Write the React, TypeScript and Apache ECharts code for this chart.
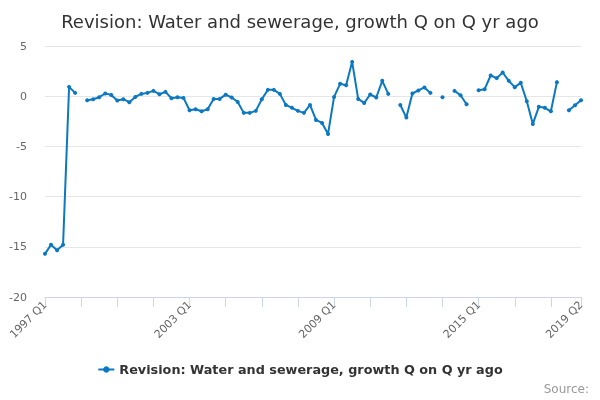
import React, { useEffect, useRef } from 'react';
import * as echarts from 'echarts';

// quarterly labels 1997 Q1 .. 2019 Q2
const quarters: string[] = [];
for (let y = 1997; y <= 2019; y++) {
  for (let q = 1; q <= 4; q++) {
    if (y === 2019 && q > 2) break;
    quarters.push(`${y} Q${q}`);
  }
}

const seriesName = 'Revision: Water and sewerage, growth Q on Q yr ago';

const revision: (number | null)[] = [
  -15.7, -14.8, -15.35, -14.8, 0.93, 0.33, null, -0.4, -0.3, -0.1,
  0.27, 0.13, -0.43, -0.3, -0.6, -0.07, 0.23, 0.33, 0.53, 0.2,
  0.43, -0.2, -0.1, -0.17, -1.4, -1.3, -1.5, -1.3, -0.27, -0.27,
  0.15, -0.13, -0.57, -1.66, -1.66, -1.46, -0.3, 0.63, 0.63, 0.23,
  -0.87, -1.16, -1.46, -1.66, -0.87, -2.36, -2.66, -3.76, -0.07, 1.23,
  1.1, 3.42, -0.27, -0.67, 0.17, -0.13, 1.53, 0.23, null, -0.88,
  -2.13, 0.27, 0.57, 0.87, 0.33, null, -0.1, null, 0.53, 0.1,
  -0.8, null, 0.6, 0.7, 2.06, 1.8, 2.36, 1.53, 0.9, 1.33,
  -0.5, -2.76, -1.06, -1.16, -1.5, 1.4, null, -1.4, -0.9, -0.4,
];

const yTicks = { min: -20, max: 5, step: 5 };

const FONT = '"DejaVu Sans", Verdana, sans-serif';
const LINE = '#0b78c1';

const RevisionChart = () => {
  const chartRef = useRef<HTMLDivElement>(null);

  useEffect(() => {
    const chart = echarts.init(chartRef.current, null, { renderer: 'svg' });
    const last = quarters.length - 1;

    const option = {
      animation: false,
      textStyle: { fontFamily: FONT },
      title: {
        text: 'Revision: Water and sewerage, growth Q on Q yr ago',
        left: 'center',
        top: 7,
        textStyle: { fontSize: 18, fontWeight: 'normal', color: '#333333', fontFamily: FONT },
      },
      legend: {
        data: [seriesName],
        bottom: 19,
        left: 'center',
        itemWidth: 16,
        itemHeight: 8,
        itemGap: 5,
        textStyle: { fontSize: 12.8, fontWeight: 'bold', color: '#333333', fontFamily: FONT },
      },
      grid: { left: 45, right: 19, top: 46, bottom: 103 },
      xAxis: {
        type: 'category',
        data: quarters,
        boundaryGap: false,
        axisLine: { onZero: false, lineStyle: { color: '#ccd6eb' } },
        axisTick: {
          length: 10,
          lineStyle: { color: '#ccd6eb' },
          interval: (i: number) => i % 6 === 0 || i === last,
        },
        axisLabel: {
          rotate: 45,
          margin: 6,
          fontSize: 11,
          color: '#666666',
          fontFamily: FONT,
          interval: (i: number) => i % 24 === 0 || i === last,
        },
        splitLine: { show: false },
      },
      yAxis: {
        type: 'value',
        min: yTicks.min,
        max: yTicks.max,
        interval: yTicks.step,
        axisLine: { show: false },
        axisTick: { show: false },
        axisLabel: { fontSize: 11, color: '#666666', margin: 18, fontFamily: FONT },
        splitLine: { lineStyle: { color: '#e6e6e6' } },
      },
      series: [
        {
          name: seriesName,
          type: 'line',
          data: revision,
          connectNulls: false,
          showAllSymbol: true,
          symbol: 'circle',
          symbolSize: 4,
          lineStyle: { width: 2, color: LINE },
          itemStyle: { color: LINE },
        },
      ],
      graphic: [
        {
          type: 'text',
          right: 11,
          top: 383,
          style: { text: 'Source:', fontSize: 12, fill: '#999999', fontFamily: FONT },
        },
      ],
    };

    chart.setOption(option);

    return () => {
      chart.dispose();
    };
  }, []);

  return (
    <div
      ref={chartRef}
      style={{ position: 'fixed', left: 0, top: 0, width: '600px', height: '400px' }}
    />
  );
};

export default function App() {
  return <RevisionChart />;
}
